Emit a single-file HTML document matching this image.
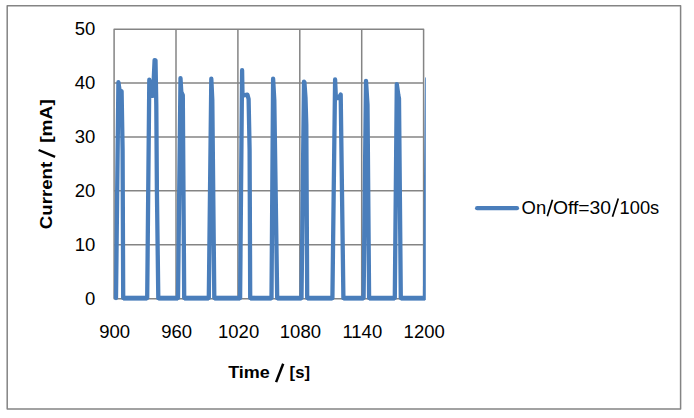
<!DOCTYPE html>
<html>
<head>
<meta charset="utf-8">
<title>Chart</title>
<style>
html,body{margin:0;padding:0;background:#fff;}
body{width:694px;height:418px;overflow:hidden;position:relative;font-family:"Liberation Sans",sans-serif;}
svg{position:absolute;left:0;top:0;display:block;}
text{font-family:"Liberation Sans",sans-serif;fill:#000;}
</style>
</head>
<body>
<svg width="694" height="418" viewBox="0 0 694 418">
  <defs>
    <clipPath id="pc"><rect x="100" y="40" width="325.8" height="270"/></clipPath>
  </defs>
  <rect x="0" y="0" width="694" height="418" fill="#ffffff"/>
  <!-- outer chart border -->
  <rect x="7.2" y="5.7" width="673.4" height="403.3" fill="none" stroke="#848484" stroke-width="1.5" stroke-linejoin="round"/>
  <!-- gridlines -->
  <g stroke="#848484" stroke-width="1.5" fill="none" stroke-linejoin="round">
    <rect x="114.1" y="29.2" width="309.5" height="269.45"/>
    <line x1="114.1" y1="83.0" x2="423.6" y2="83.0"/>
    <line x1="114.1" y1="136.9" x2="423.6" y2="136.9"/>
    <line x1="114.1" y1="190.85" x2="423.6" y2="190.85"/>
    <line x1="114.1" y1="244.75" x2="423.6" y2="244.75"/>
    <line x1="176.0" y1="29.2" x2="176.0" y2="298.65"/>
    <line x1="237.9" y1="29.2" x2="237.9" y2="298.65"/>
    <line x1="299.8" y1="29.2" x2="299.8" y2="298.65"/>
    <line x1="361.7" y1="29.2" x2="361.7" y2="298.65"/>
  </g>
  <!-- series -->
  <g clip-path="url(#pc)">
  <path fill="none" stroke="#4A7EBB" stroke-width="4.3" stroke-linejoin="round" stroke-linecap="round" d="
    M116.0,298.1 L118.4,82.2 L119.6,90.5 L121.6,91.3 L122.6,150 L123.2,298.1
    L147.2,298.1 L149.3,79.7 L150.5,95.8 L153.0,95.8 L154.6,60.1 L155.5,60.3 L156.3,105 L156.9,190 L158.3,298.1
    L178.0,298.1 L180.5,78.1 L181.3,92.0 L182.8,95.2 L184.2,298.1
    L208.8,298.1 L211.3,78.7 L212.3,100 L214.3,298.1
    L240.1,298.1 L242.1,70.2 L242.5,94.6 L243.7,95.4 L247.4,94.6 L248.6,99.0 L249.6,150 L250.2,298.1
    L271.5,298.1 L273.1,78.7 L274.3,100 L277.2,298.1
    L301.5,298.1 L304.0,81.6 L304.4,82.2 L305.5,98.0 L306.3,125 L307.2,298.1
    L332.4,298.1 L335.1,79.5 L335.8,96.0 L336.8,98.2 L338.4,98.2 L340.7,94.6 L343.4,298.1
    L363.6,298.1 L366.0,80.9 L367.5,105 L369.1,298.1
    L394.8,298.1 L396.8,84.1 L398.3,95.0 L399.0,98.5 L400.8,298.1
    L425.0,298.1 L427.1,79.0"/>
  <g stroke="#4A7EBB" stroke-width="4.8" fill="none">
    <line x1="123.2" y1="298.1" x2="147.2" y2="298.1"/>
    <line x1="158.3" y1="298.1" x2="178.0" y2="298.1"/>
    <line x1="184.2" y1="298.1" x2="208.8" y2="298.1"/>
    <line x1="214.3" y1="298.1" x2="240.1" y2="298.1"/>
    <line x1="250.2" y1="298.1" x2="271.5" y2="298.1"/>
    <line x1="277.2" y1="298.1" x2="301.5" y2="298.1"/>
    <line x1="307.2" y1="298.1" x2="332.4" y2="298.1"/>
    <line x1="343.4" y1="298.1" x2="363.6" y2="298.1"/>
    <line x1="369.1" y1="298.1" x2="394.8" y2="298.1"/>
    <line x1="400.8" y1="298.1" x2="425.0" y2="298.1"/>
  </g>
  </g>
  <!-- y tick labels -->
  <g font-size="18.5" text-anchor="end">
    <text x="95.3" y="35.4">50</text>
    <text x="95.3" y="89.2">40</text>
    <text x="95.3" y="143.0">30</text>
    <text x="95.3" y="196.9">20</text>
    <text x="95.3" y="250.7">10</text>
    <text x="95.3" y="304.5">0</text>
  </g>
  <!-- x tick labels -->
  <g font-size="18.5" text-anchor="middle">
    <text x="114.7" y="338.0">900</text>
    <text x="176.6" y="338.0">960</text>
    <text x="238.6" y="338.0">1020</text>
    <text x="300.4" y="338.0">1080</text>
    <text x="362.3" y="338.0">1140</text>
    <text x="424.2" y="338.0">1200</text>
  </g>
  <!-- x axis title -->
  <g font-size="17.4" font-weight="bold">
    <text x="228.2" y="378.3" textLength="41.6" lengthAdjust="spacingAndGlyphs">Time</text>
    <text x="289.6" y="378.3" textLength="20.4" lengthAdjust="spacingAndGlyphs">[s]</text>
  </g>
  <line x1="276.1" y1="382.1" x2="283.2" y2="363.8" stroke="#000" stroke-width="2.5"/>
  <!-- y axis title -->
  <g transform="translate(52.4,0) rotate(-90)">
    <g font-size="17" font-weight="bold">
      <text x="-229.2" y="0" textLength="67.4" lengthAdjust="spacingAndGlyphs">Current</text>
      <text x="-142.8" y="0" textLength="43.6" lengthAdjust="spacingAndGlyphs">[mA]</text>
    </g>
    <line x1="-156.9" y1="2.7" x2="-150.0" y2="-13.8" stroke="#000" stroke-width="2.4"/>
  </g>
  <!-- legend -->
  <line x1="477.1" y1="208.2" x2="517.0" y2="208.2" stroke="#4A7EBB" stroke-width="4.2" stroke-linecap="round"/>
  <g font-size="18.2">
    <text x="521.6" y="213.5" textLength="24.6" lengthAdjust="spacingAndGlyphs">On</text>
    <text x="552.9" y="213.5" textLength="58.2" lengthAdjust="spacingAndGlyphs">Off=30</text>
    <text x="619.6" y="213.5" textLength="39.6" lengthAdjust="spacingAndGlyphs">100s</text>
  </g>
  <g stroke="#000" stroke-width="1.7">
    <line x1="547.3" y1="216.3" x2="552.5" y2="199.8"/>
    <line x1="612.5" y1="216.7" x2="618.3" y2="198.6"/>
  </g>
</svg>
</body>
</html>
